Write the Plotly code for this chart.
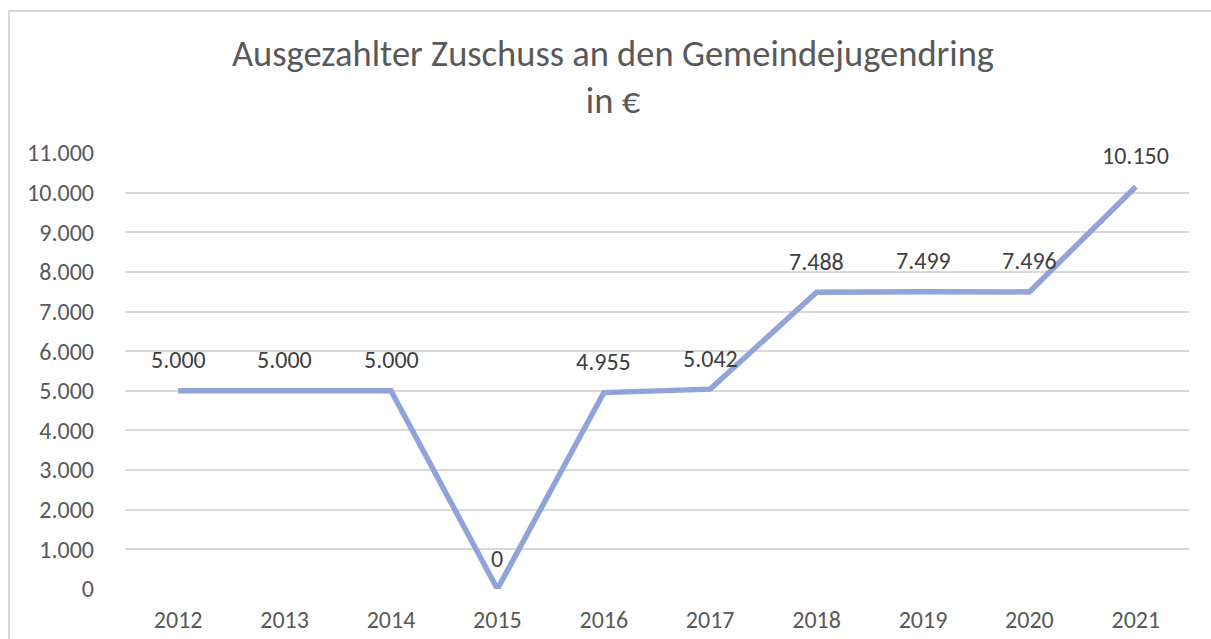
import plotly.graph_objects as go

# Zuschuss an den Gemeindejugendring je Jahr (in Euro)
years = ["2012", "2013", "2014", "2015", "2016", "2017", "2018", "2019", "2020", "2021"]
amounts = [5000, 5000, 5000, 0, 4955, 5042, 7488, 7499, 7496, 10150]
y_ticks = list(range(0, 11001, 1000))

FONT = "Calibri, Carlito, Lato, sans-serif"
TEXT_GREY = "#595959"
LABEL_GREY = "#404040"


def de_format(v):
    return f"{v:,}".replace(",", ".")


fig = go.Figure()
fig.add_trace(go.Scatter(
    x=years, y=amounts, mode="lines",
    line=dict(color="#8FA4D8", width=5.5),
    hoverinfo="skip", showlegend=False,
))

# Datenbeschriftungen über den Punkten (x als Kategorie-Index)
for i, v in enumerate(amounts):
    fig.add_annotation(
        x=i, y=v, xref="x", yref="y", text=de_format(v), showarrow=False,
        yshift=31, font=dict(family=FONT, size=24, color=LABEL_GREY),
    )

# Diagrammtitel
fig.add_annotation(
    x=0.4586, y=1.1732, xref="paper", yref="paper",
    xanchor="center", yanchor="middle", showarrow=False,
    text="Ausgezahlter Zuschuss an den Gemeindejugendring<br>in €",
    font=dict(family=FONT, size=36.5, color=TEXT_GREY),
)

# Rahmen um das Diagramm
fig.add_shape(
    type="rect", xref="paper", yref="paper",
    x0=-0.109, x1=1.2, y0=-0.3, y1=1.3257,
    line=dict(color="#D9D9D9", width=2), layer="below",
)

fig.update_layout(
    width=1211, height=639,
    margin=dict(l=125, r=22, t=153, b=50),
    paper_bgcolor="white", plot_bgcolor="white",
    separators=",.",
    xaxis=dict(
        type="category", range=[-0.5, 9.5], automargin=False,
        showgrid=False, zeroline=False, showline=False,
        ticks="", ticklabelstandoff=14,
        tickfont=dict(family=FONT, size=24, color=TEXT_GREY),
    ),
    yaxis=dict(
        range=[0, 11000], tickvals=y_ticks, automargin=False,
        ticktext=[de_format(t) for t in y_ticks],
        showgrid=True, gridcolor="#D9D9D9", gridwidth=1.5,
        zeroline=False, showline=False, ticks="",
        ticklabelstandoff=30,
        tickfont=dict(family=FONT, size=24, color=TEXT_GREY),
    ),
)

fig.write_html("out.html")
